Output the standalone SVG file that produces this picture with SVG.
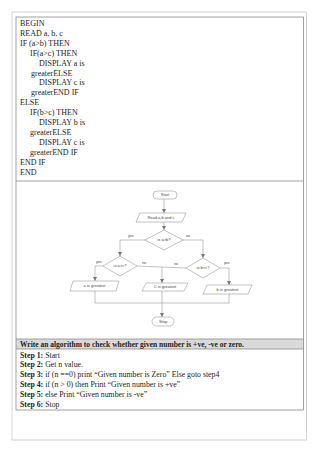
<svg xmlns="http://www.w3.org/2000/svg" width="320" height="452" viewBox="0 0 320 452">
<style>
.code{font-family:"Liberation Serif",serif;font-size:8px;fill:#222}
.st{font-size:7.8px}
.b{font-weight:bold}
.hd{font-size:7.5px}
.fl{fill:#fff;stroke:#999;stroke-width:0.6}
.ft{font-family:"Liberation Sans",Arial,sans-serif;font-size:4px;fill:#444;text-anchor:middle}
.lbl{font-family:"Liberation Sans",Arial,sans-serif;font-size:3.6px;fill:#444}
.cn{fill:none;stroke:#999;stroke-width:0.6}
</style>
<defs>
<marker id="ah" viewBox="0 0 4 4" refX="4" refY="2" markerWidth="4" markerHeight="4" markerUnits="userSpaceOnUse" orient="auto">
<path d="M0,0 L4,2 L0,4 z" fill="#777"/>
</marker>
</defs>
<rect width="320" height="452" fill="#fff"/>
<rect x="12" y="12" width="294.5" height="428" fill="#fff" stroke="#d4d4d4" stroke-width="1"/>
<g id="table">
<rect x="16" y="339" width="287.5" height="10" fill="#d9d9d9"/>
<rect x="16" y="17" width="287.5" height="393" fill="none" stroke="#8a8a8a" stroke-width="0.8"/>
<line x1="16" y1="181" x2="303.5" y2="181" stroke="#8a8a8a" stroke-width="0.8"/>
<line x1="16" y1="339" x2="303.5" y2="339" stroke="#8a8a8a" stroke-width="0.8"/>
<line x1="16" y1="349" x2="303.5" y2="349" stroke="#8a8a8a" stroke-width="0.8"/>
</g>
<g id="pseudocode" class="code">
<text x="20" y="26">BEGIN</text>
<text x="20" y="35.9">READ a, b, c</text>
<text x="20" y="45.8">IF (a&gt;b) THEN</text>
<text x="30" y="55.7">IF(a&gt;c) THEN</text>
<text x="39" y="65.6">DISPLAY a is</text>
<text x="31" y="75.5">greaterELSE</text>
<text x="39" y="85.4">DISPLAY c is</text>
<text x="31" y="95.3">greaterEND IF</text>
<text x="20" y="105.2">ELSE</text>
<text x="30" y="115.1">IF(b&gt;c) THEN</text>
<text x="39" y="125">DISPLAY b is</text>
<text x="30" y="134.9">greaterELSE</text>
<text x="39" y="144.8">DISPLAY c is</text>
<text x="30" y="154.7">greaterEND IF</text>
<text x="20" y="164.6">END IF</text>
<text x="20" y="174.5">END</text>
</g>
<g id="connectors">
<line class="cn" x1="164" y1="199" x2="164" y2="213" marker-end="url(#ah)"/>
<line class="cn" x1="164" y1="222" x2="164" y2="230" marker-end="url(#ah)"/>
<polyline class="cn" points="145,240 120,240 120,256" marker-end="url(#ah)"/>
<polyline class="cn" points="183,240 203,240 203,258" marker-end="url(#ah)"/>
<polyline class="cn" points="103,266 95,266 95,281" marker-end="url(#ah)"/>
<polyline class="cn" points="137,266 186,268"/>
<line class="cn" x1="162" y1="267" x2="162" y2="283" marker-end="url(#ah)"/>
<polyline class="cn" points="220,268 229,268 229,285" marker-end="url(#ah)"/>
<polyline class="cn" points="95,291 95,303 229,303 229,294"/>
<line class="cn" x1="162" y1="291" x2="162" y2="317" marker-end="url(#ah)"/>
<text class="lbl" x="128" y="237">yes</text>
<text class="lbl" x="186" y="237">no</text>
<text class="lbl" x="96" y="263">yes</text>
<text class="lbl" x="142" y="264">no</text>
<text class="lbl" x="174" y="265">no</text>
<text class="lbl" x="224" y="264">yes</text>
</g>
<g id="start"><rect class="fl" x="153" y="191" width="24" height="8" rx="4"/><text class="ft" x="165" y="196.4">Start</text></g>
<g id="read"><polygon class="fl" points="140,213 186,213 182,222 136,222"/><text class="ft" x="161" y="218.8">Read a,b and c</text></g>
<g id="d1"><polygon class="fl" points="164,230 183,240 164,250 145,240"/><text class="ft" x="164" y="241.3">is a&gt;b?</text></g>
<g id="d2"><polygon class="fl" points="120,256 137,266 120,276 103,266"/><text class="ft" x="120" y="267.3">is a&gt;c?</text></g>
<g id="d3"><polygon class="fl" points="203,258 220,268 203,278 186,268"/><text class="ft" x="203" y="269.3">is b&gt;c?</text></g>
<g id="a"><polygon class="fl" points="73,281 119,281 116,291 70,291"/><text class="ft" x="94.5" y="287.3">a is greatest</text></g>
<g id="c"><polygon class="fl" points="146,283 188,283 184,291 142,291"/><text class="ft" x="165" y="288.3">C is greatest</text></g>
<g id="bg"><polygon class="fl" points="207,285 252,285 248,294 203,294"/><text class="ft" x="227.5" y="290.8">b is greatest</text></g>
<g id="stop"><rect class="fl" x="152" y="317" width="22" height="9" rx="4.5"/><text class="ft" x="163" y="322.6">Stop</text></g>
<g id="steps" class="code">
<text class="b hd" x="20" y="347.2">Write an algorithm to check whether given number is +ve, -ve or zero.</text>
<text class="st" x="20" y="357.5"><tspan class="b">Step 1:</tspan> Start</text>
<text class="st" x="20" y="367.3"><tspan class="b">Step 2:</tspan> Get n value.</text>
<text class="st" x="20" y="377.1"><tspan class="b">Step 3:</tspan> if (n ==0) print “Given number is Zero” Else goto step4</text>
<text class="st" x="20" y="386.9"><tspan class="b">Step 4:</tspan> if (n &gt; 0) then Print “Given number is +ve”</text>
<text class="st" x="20" y="396.7"><tspan class="b">Step 5:</tspan> else Print “Given number is -ve”</text>
<text class="st" x="20" y="406.5"><tspan class="b">Step 6:</tspan> Stop</text>
</g>
</svg>
